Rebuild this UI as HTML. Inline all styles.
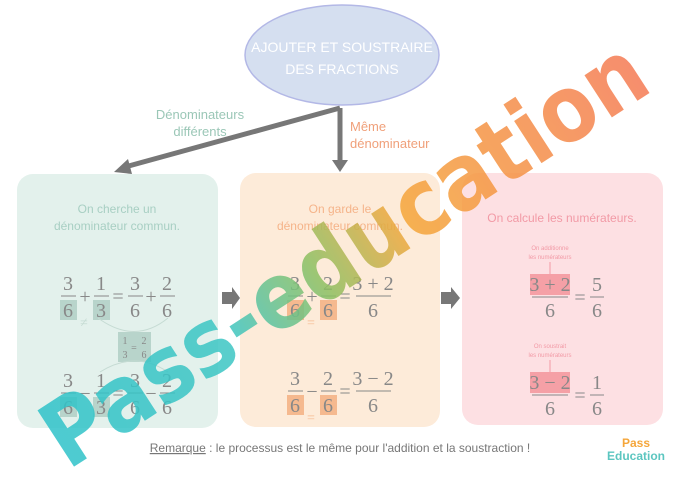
<!DOCTYPE html>
<html><head><meta charset="utf-8"><style>
body{margin:0;background:#fff;width:680px;height:480px;overflow:hidden}
svg{display:block}
.h{font-family:"Liberation Sans",sans-serif}
.m{font-family:"Liberation Serif",serif;fill:#888;font-size:20px}
</style></head><body>
<svg width="680" height="480" viewBox="0 0 680 480">
<defs>
<linearGradient id="wg" x1="0" y1="0" x2="1" y2="0">
<stop offset="0" stop-color="#2fc3c9"/><stop offset="0.3" stop-color="#3ec6c4"/><stop offset="0.45" stop-color="#8cc063"/><stop offset="0.6" stop-color="#f5a63a"/><stop offset="1" stop-color="#f57a55"/></linearGradient>
</defs>
<!-- panels -->
<rect x="17" y="174" width="201" height="254" rx="16" fill="#e3f1ec"/>
<rect x="240" y="173" width="200" height="254" rx="16" fill="#fdebd9"/>
<rect x="462" y="173" width="201" height="252" rx="16" fill="#fde0e3"/>
<!-- ellipse -->
<ellipse cx="342" cy="55" rx="97" ry="50" fill="#d5dff0" stroke="#b3b8e6" stroke-width="1.5"/>
<text x="342" y="52" text-anchor="middle" class="h" fill="#fff" font-size="14">AJOUTER ET SOUSTRAIRE</text>
<text x="342" y="74" text-anchor="middle" class="h" fill="#fff" font-size="14">DES FRACTIONS</text>
<!-- arrows -->
<path d="M340 108 L340 162" stroke="#777" stroke-width="5" fill="none"/>
<path d="M332 160 L348 160 L340 172 Z" fill="#777"/>
<path d="M340 108 L125 167" stroke="#777" stroke-width="5" fill="none"/>
<path d="M128 159 L132 174 L114 172 Z" fill="#777"/>
<path d="M222 292 L232 292 L232 287 L240 298 L232 309 L232 304 L222 304 Z" fill="#777"/>
<path d="M441 292 L451 292 L451 287 L460 298 L451 309 L451 304 L441 304 Z" fill="#777"/>
<text x="200" y="119" text-anchor="middle" class="h" fill="#9bc7b7" font-size="13">Dénominateurs</text>
<text x="200" y="136" text-anchor="middle" class="h" fill="#9bc7b7" font-size="13">différents</text>
<text x="350" y="131" class="h" fill="#f0a07a" font-size="13">Même</text>
<text x="350" y="148" class="h" fill="#f0a07a" font-size="13">dénominateur</text>
<!-- panel titles -->
<text x="117" y="213" text-anchor="middle" class="h" fill="#a8cfc3" font-size="12">On cherche un</text>
<text x="117" y="230" text-anchor="middle" class="h" fill="#a8cfc3" font-size="12">dénominateur commun.</text>
<text x="340" y="213" text-anchor="middle" class="h" fill="#f5b48a" font-size="12">On garde le</text>
<text x="340" y="230" text-anchor="middle" class="h" fill="#f5b48a" font-size="12">dénominateur commun.</text>
<text x="562" y="222" text-anchor="middle" class="h" fill="#f29aa6" font-size="12">On calcule les numérateurs.</text>
<!-- green panel math -->
<g class="m">
<rect x="60" y="300" width="17" height="20" fill="#b8d4cb"/><rect x="93" y="300" width="17" height="20" fill="#b8d4cb"/>
<text x="68" y="290" text-anchor="middle">3</text><line x1="61" y1="296" x2="76" y2="296" stroke="#888"/><text x="68" y="317" text-anchor="middle">6</text>
<text x="85" y="303" text-anchor="middle">+</text>
<text x="101" y="290" text-anchor="middle">1</text><line x1="94" y1="296" x2="109" y2="296" stroke="#888"/><text x="101" y="317" text-anchor="middle">3</text>
<text x="118" y="303" text-anchor="middle">=</text>
<text x="135" y="290" text-anchor="middle">3</text><line x1="128" y1="296" x2="143" y2="296" stroke="#888"/><text x="135" y="317" text-anchor="middle">6</text>
<text x="151" y="303" text-anchor="middle">+</text>
<text x="167" y="290" text-anchor="middle">2</text><line x1="160" y1="296" x2="175" y2="296" stroke="#888"/><text x="167" y="317" text-anchor="middle">6</text>
<text x="84" y="327" text-anchor="middle" fill="#c5dbd3" font-size="14">≠</text>
<path d="M98 318 Q135 345 168 318" stroke="#c5dbd3" fill="none"/>
<rect x="118" y="332" width="33" height="30" fill="#b8d4cb"/>
<text x="125" y="344" text-anchor="middle" font-size="10">1</text><text x="125" y="358" text-anchor="middle" font-size="10">3</text>
<text x="134" y="351" text-anchor="middle" font-size="10">=</text>
<text x="144" y="344" text-anchor="middle" font-size="10">2</text><text x="144" y="358" text-anchor="middle" font-size="10">6</text>
<path d="M100 372 Q135 350 168 372" stroke="#c5dbd3" fill="none"/>
<rect x="60" y="397" width="17" height="20" fill="#b8d4cb"/><rect x="93" y="397" width="17" height="20" fill="#b8d4cb"/>
<text x="68" y="387" text-anchor="middle">3</text><line x1="61" y1="393" x2="76" y2="393" stroke="#888"/><text x="68" y="414" text-anchor="middle">6</text>
<text x="85" y="400" text-anchor="middle">−</text>
<text x="101" y="387" text-anchor="middle">1</text><line x1="94" y1="393" x2="109" y2="393" stroke="#888"/><text x="101" y="414" text-anchor="middle">3</text>
<text x="118" y="400" text-anchor="middle">=</text>
<text x="135" y="387" text-anchor="middle">3</text><line x1="128" y1="393" x2="143" y2="393" stroke="#888"/><text x="135" y="414" text-anchor="middle">6</text>
<text x="151" y="400" text-anchor="middle">−</text>
<text x="167" y="387" text-anchor="middle">2</text><line x1="160" y1="393" x2="175" y2="393" stroke="#888"/><text x="167" y="414" text-anchor="middle">6</text>
</g>
<!-- orange panel math -->
<g class="m">
<rect x="287" y="300" width="17" height="20" fill="#f5b98f"/><rect x="320" y="300" width="17" height="20" fill="#f5b98f"/>
<text x="295" y="290" text-anchor="middle">3</text><line x1="288" y1="296" x2="303" y2="296" stroke="#888"/><text x="295" y="317" text-anchor="middle">6</text>
<text x="312" y="303" text-anchor="middle">+</text>
<text x="328" y="290" text-anchor="middle">2</text><line x1="321" y1="296" x2="336" y2="296" stroke="#888"/><text x="328" y="317" text-anchor="middle">6</text>
<text x="345" y="303" text-anchor="middle">=</text>
<text x="373" y="290" text-anchor="middle">3 + 2</text><line x1="356" y1="296" x2="391" y2="296" stroke="#888"/><text x="373" y="317" text-anchor="middle">6</text>
<text x="311" y="327" text-anchor="middle" fill="#f5b98f" font-size="14">=</text>
<rect x="287" y="395" width="17" height="20" fill="#f5b98f"/><rect x="320" y="395" width="17" height="20" fill="#f5b98f"/>
<text x="295" y="385" text-anchor="middle">3</text><line x1="288" y1="391" x2="303" y2="391" stroke="#888"/><text x="295" y="412" text-anchor="middle">6</text>
<text x="312" y="398" text-anchor="middle">−</text>
<text x="328" y="385" text-anchor="middle">2</text><line x1="321" y1="391" x2="336" y2="391" stroke="#888"/><text x="328" y="412" text-anchor="middle">6</text>
<text x="345" y="398" text-anchor="middle">=</text>
<text x="373" y="385" text-anchor="middle">3 − 2</text><line x1="356" y1="391" x2="391" y2="391" stroke="#888"/><text x="373" y="412" text-anchor="middle">6</text>
<text x="311" y="422" text-anchor="middle" fill="#f5b98f" font-size="14">=</text>
</g>
<!-- pink panel math -->
<text x="550" y="250" text-anchor="middle" class="h" fill="#f29aa6" font-size="6">On additionne</text>
<text x="550" y="259" text-anchor="middle" class="h" fill="#f29aa6" font-size="6">les numérateurs</text>
<line x1="550" y1="262" x2="550" y2="274" stroke="#f29aa6"/>
<text x="550" y="348" text-anchor="middle" class="h" fill="#f29aa6" font-size="6">On soustrait</text>
<text x="550" y="357" text-anchor="middle" class="h" fill="#f29aa6" font-size="6">les numérateurs</text>
<line x1="550" y1="360" x2="550" y2="372" stroke="#f29aa6"/>
<g class="m">
<rect x="530" y="274" width="40" height="21" fill="#f5a0a6"/>
<text x="550" y="291" text-anchor="middle">3 + 2</text><line x1="532" y1="297" x2="568" y2="297" stroke="#888"/><text x="550" y="317" text-anchor="middle">6</text>
<text x="580" y="304" text-anchor="middle">=</text>
<text x="597" y="291" text-anchor="middle">5</text><line x1="590" y1="297" x2="604" y2="297" stroke="#888"/><text x="597" y="317" text-anchor="middle">6</text>
<rect x="530" y="372" width="40" height="21" fill="#f5a0a6"/>
<text x="550" y="389" text-anchor="middle">3 − 2</text><line x1="532" y1="395" x2="568" y2="395" stroke="#888"/><text x="550" y="415" text-anchor="middle">6</text>
<text x="580" y="402" text-anchor="middle">=</text>
<text x="597" y="389" text-anchor="middle">1</text><line x1="590" y1="395" x2="604" y2="395" stroke="#888"/><text x="597" y="415" text-anchor="middle">6</text>
</g>
<!-- remark -->
<text x="340" y="452" text-anchor="middle" class="h" fill="#777" font-size="12"><tspan text-decoration="underline">Remarque</tspan> : le processus est le même pour l'addition et la soustraction !</text>
<text x="636" y="447" text-anchor="middle" class="h" fill="#f5a63a" font-size="12" font-weight="bold">Pass</text>
<text x="636" y="460" text-anchor="middle" class="h" fill="#5cc6c0" font-size="12" font-weight="bold">Education</text>
<!-- watermark -->
<g transform="translate(345,255) rotate(-33)" opacity="0.85">
<text x="0" y="30" text-anchor="middle" font-family="'DejaVu Sans',sans-serif" font-weight="bold" font-size="92" fill="url(#wg)" textLength="700" lengthAdjust="spacingAndGlyphs">Pass-education</text>
</g>
</svg>
</body></html>
